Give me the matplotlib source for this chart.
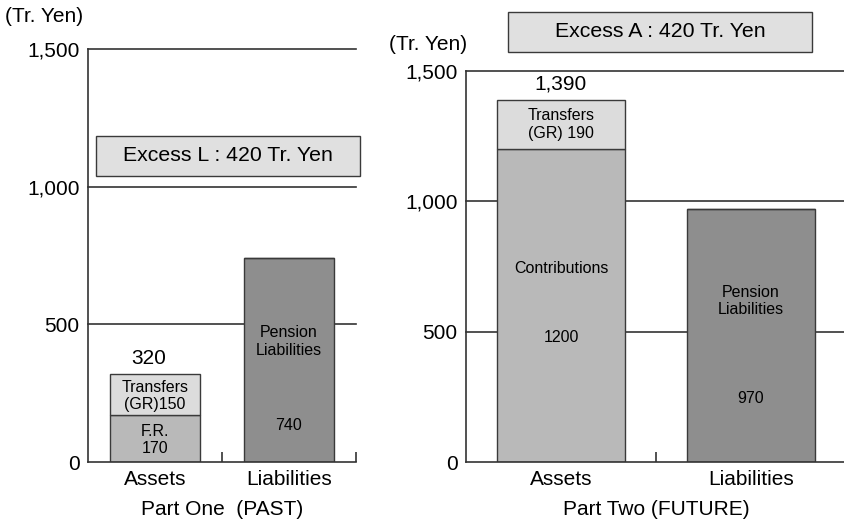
import matplotlib
matplotlib.use("Agg")
import matplotlib.pyplot as plt
from matplotlib.patches import Rectangle

plt.rcParams['font.family'] = ['Liberation Sans', 'DejaVu Sans']

# ---- data ----
categories = ["Assets", "Liabilities"]

past_base = [170, 740]          # F.R. / Pension liabilities
past_transfers = [150, 0]       # Transfers (GR)
past_total = 320
past_excess = "Excess L : 420 Tr. Yen"

future_base = [1200, 970]       # Contributions / Pension liabilities
future_transfers = [190, 0]     # Transfers (GR)
future_total = 1390
future_excess = "Excess A : 420 Tr. Yen"

yticks = [0, 500, 1000, 1500]
ytick_labels = ["0", "500", "1,000", "1,500"]

C_LIGHT = "#dcdcdc"
C_MID = "#b9b9b9"
C_DARK = "#8e8e8e"
C_EDGE = "#3a3a3a"
C_LINE = "#333333"

W, H = 845, 524
fig = plt.figure(figsize=(W / 100, H / 100), dpi=100)


def px_axes(x0, x1, y_top, y_bottom):
    return fig.add_axes([x0 / W, 1 - y_bottom / H, (x1 - x0) / W, (y_bottom - y_top) / H])


ax1 = px_axes(88, 356, 49, 462)
ax2 = px_axes(466, 846, 71, 462)


def style_axes(ax, xlabel):
    ax.set_xlim(-0.5, 1.5)
    ax.set_ylim(0, 1500)
    for s in ("top", "right"):
        ax.spines[s].set_visible(False)
    for s in ("left", "bottom"):
        ax.spines[s].set_color(C_LINE)
        ax.spines[s].set_linewidth(1.2)
    for y in yticks[1:]:
        ax.axhline(y, color=C_LINE, lw=1.2, zorder=0.5, clip_on=False)
    ax.set_yticks(yticks)
    ax.set_yticklabels(ytick_labels)
    ax.tick_params(axis="y", length=0, pad=6, labelsize=15)
    ax.set_xticks(range(len(categories)))
    ax.set_xticklabels(categories)
    ax.tick_params(axis="x", which="major", length=0, pad=6, labelsize=15)
    ax.set_xticks([0.5, 1.5], minor=True)
    ax.tick_params(axis="x", which="minor", direction="in", length=7,
                   width=1.2, color=C_LINE)
    ax.set_xlabel(xlabel, fontsize=15, labelpad=8)


style_axes(ax1, "Part One  (PAST)")
style_axes(ax2, "Part Two (FUTURE)")

BW = 0.67
bar_kw = dict(width=BW, edgecolor=C_EDGE, linewidth=1.0, zorder=2)
IN_FS = 11.5

# ---- Part One ----
ax1.bar(categories, past_base, color=[C_MID, C_DARK], **bar_kw)
ax1.bar(categories, past_transfers, bottom=past_base, color=C_LIGHT, **bar_kw)
ax1.text(0, past_base[0] + past_transfers[0] / 2 - 5, "Transfers\n(GR)150",
         ha="center", va="center", fontsize=IN_FS, zorder=3)
ax1.text(0, past_base[0] / 2 - 5, "F.R.\n170", ha="center", va="center",
         fontsize=IN_FS, zorder=3)
ax1.text(1, 438, "Pension\nLiabilities", ha="center", va="center",
         fontsize=IN_FS, zorder=3)
ax1.text(1, 134, str(past_base[1]), ha="center", va="center",
         fontsize=IN_FS, zorder=3)
ax1.annotate(str(past_total), (-0.045, past_total), xytext=(0, 7),
             textcoords="offset points", ha="center", va="baseline", fontsize=15)

ax1.add_patch(Rectangle((-0.44, 1040), 1.97, 145, facecolor="#e0e0e0",
                        edgecolor=C_EDGE, lw=1.0, zorder=3, clip_on=False))
ax1.text(0.545, 1112, past_excess, ha="center", va="center", fontsize=15.3, zorder=4)

# ---- Part Two ----
ax2.bar(categories, future_base, color=[C_MID, C_DARK], **bar_kw)
ax2.bar(categories, future_transfers, bottom=future_base, color=C_LIGHT, **bar_kw)
ax2.text(0, future_base[0] + future_transfers[0] / 2, "Transfers\n(GR) 190",
         ha="center", va="center", fontsize=IN_FS, zorder=3)
ax2.text(0, 744, "Contributions", ha="center", va="center", fontsize=IN_FS, zorder=3)
ax2.text(0, 478, str(future_base[0]), ha="center", va="center", fontsize=IN_FS, zorder=3)
ax2.text(1, 618, "Pension\nLiabilities", ha="center", va="center",
         fontsize=IN_FS, zorder=3)
ax2.text(1, 244, str(future_base[1]), ha="center", va="center",
         fontsize=IN_FS, zorder=3)
ax2.annotate(f"{future_total:,}", (0, future_total), xytext=(0, 7),
             textcoords="offset points", ha="center", va="baseline", fontsize=15)

ax2.add_patch(Rectangle((-0.279, 1573), 1.6, 154, facecolor="#e0e0e0",
                        edgecolor=C_EDGE, lw=1.0, zorder=3, clip_on=False))
ax2.text(0.521, 1650, future_excess, ha="center", va="center", fontsize=15.3, zorder=4)

# unit captions
fig.text(5 / W, 1 - 16 / H, "(Tr. Yen)", ha="left", va="center", fontsize=15)
fig.text(389 / W, 1 - 45 / H, "(Tr. Yen)", ha="left", va="center", fontsize=15)

fig.savefig("out.png", dpi=100)
